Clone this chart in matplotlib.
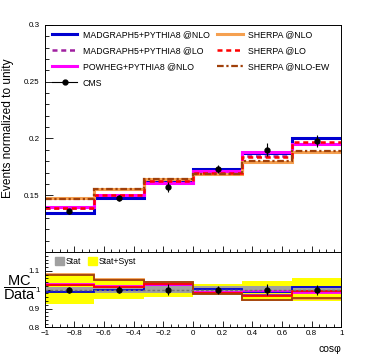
import numpy as np
import matplotlib
matplotlib.use('Agg')
import matplotlib.pyplot as plt
from matplotlib.ticker import MultipleLocator, FixedLocator
from matplotlib.patches import Patch
from matplotlib.lines import Line2D

plt.rcParams['font.family'] = ['Liberation Sans', 'DejaVu Sans']
plt.rcParams['mathtext.fontset'] = 'custom'
plt.rcParams['mathtext.rm'] = 'Liberation Sans'
plt.rcParams['mathtext.it'] = 'Liberation Sans'
plt.rcParams['axes.linewidth'] = 0.7

# binning in cos(phi)
bin_edges = [-1, -2/3, -1/3, 0, 1/3, 2/3, 1]
bin_centers = [-5/6, -1/2, -1/6, 1/6, 1/2, 5/6]

# measured (CMS) normalized distribution
cms = [0.1359, 0.1477, 0.1575, 0.1731, 0.1901, 0.1979]
cms_err = [0.0021, 0.0027, 0.0045, 0.0036, 0.0058, 0.0054]

# predictions
mg_nlo = [0.1342, 0.1478, 0.1618, 0.1735, 0.1873, 0.2005]
mg_lo = [0.1390, 0.1500, 0.1620, 0.1710, 0.1850, 0.1955]
powheg = [0.1397, 0.1502, 0.1612, 0.1712, 0.1885, 0.1948]
sherpa_nlo = [0.1475, 0.1557, 0.1643, 0.1690, 0.1795, 0.1885]
sherpa_lo = [0.1390, 0.1500, 0.1625, 0.1700, 0.1840, 0.1965]
sherpa_ew = [0.1468, 0.1552, 0.1640, 0.1688, 0.1800, 0.1888]

# relative uncertainty bands for the ratio panel
stat_rel = [0.014, 0.018, 0.020, 0.020, 0.020, 0.020]
tot_rel = [0.078, 0.052, 0.040, 0.030, 0.048, 0.062]

models = [
    ('MADGRAPH5+PYTHIA8 @NLO', mg_nlo, '#0000d0', '-', 2.2),
    ('MADGRAPH5+PYTHIA8 @LO', mg_lo, '#a020a0', (0, (2, 1.5)), 1.8),
    ('POWHEG+PYTHIA8 @NLO', powheg, '#ff00ff', '-', 2.2),
    ('SHERPA @NLO', sherpa_nlo, '#f5a050', '-', 2.2),
    ('SHERPA @LO', sherpa_lo, '#ff0000', (0, (2, 1.5)), 1.8),
    ('SHERPA @NLO-EW', sherpa_ew, '#a0400a', (0, (3, 1.2, 1, 1.2)), 1.6),
]

fig = plt.figure(figsize=(3.7, 3.6), dpi=100)
ax = fig.add_axes([0.1208, 0.30, 0.8014, 0.6306])
axr = fig.add_axes([0.1208, 0.0907, 0.8014, 0.2093])

edges = np.array(bin_edges)
data = np.array(cms)
derr = np.array(cms_err)

handles = {}
for name, vals, col, ls, lw in models:
    ax.stairs(vals, edges, baseline=None, color=col, ls=ls, lw=lw)
    handles[name] = Line2D([], [], color=col, ls=ls, lw=lw)

ax.errorbar(bin_centers, cms, yerr=cms_err, fmt='o', color='black',
            ms=3.5, elinewidth=0.8, capsize=0, zorder=10)
handles['CMS'] = Line2D([], [], color='black', marker='o', ms=3.5, lw=0.8)

order = ['MADGRAPH5+PYTHIA8 @NLO', 'MADGRAPH5+PYTHIA8 @LO', 'POWHEG+PYTHIA8 @NLO', 'CMS',
         'SHERPA @NLO', 'SHERPA @LO', 'SHERPA @NLO-EW']
ax.legend([handles[k] for k in order], order, ncol=2, loc='upper left',
          bbox_to_anchor=(0.025, 0.978), frameon=False, fontsize=6.3,
          handlelength=2.9, handletextpad=0.6, columnspacing=0.9,
          labelspacing=0.82, borderpad=0, borderaxespad=0)

fmt = plt.FuncFormatter(lambda v, p: f'{round(v, 3):g}'.replace('-', '\u2212'))

ax.set_xlim(-1, 1)
ax.set_ylim(0.1, 0.3)
ax.yaxis.set_major_locator(FixedLocator([0.15, 0.2, 0.25, 0.3]))
ax.yaxis.set_major_formatter(fmt)
ax.yaxis.set_minor_locator(MultipleLocator(0.01))
ax.xaxis.set_major_locator(MultipleLocator(0.2))
ax.xaxis.set_minor_locator(MultipleLocator(0.05))
ax.tick_params(axis='both', which='both', direction='in', labelsize=5.8, width=0.6)
ax.tick_params(axis='y', which='major', length=5.5)
ax.tick_params(axis='y', which='minor', length=2.8)
ax.tick_params(axis='x', which='major', length=4.5, labelbottom=False)
ax.tick_params(axis='x', which='minor', length=2.2)
ax.set_ylabel('Events normalized to unity', fontsize=8.6)
ax.yaxis.set_label_coords(-0.105, 0.545)

# ratio panel
lo_t = 1 - np.array(tot_rel)
axr.stairs(1 + np.array(tot_rel), edges, baseline=lo_t, fill=True, color='#ffff00', lw=0)
lo_s = 1 - np.array(stat_rel)
axr.stairs(1 + np.array(stat_rel), edges, baseline=lo_s, fill=True, color='#a0a0a0', lw=0)
for name, vals, col, ls, lw in models:
    axr.stairs(np.array(vals) / data, edges, baseline=None, color=col, lw=1.3)
axr.axhline(1, color='#707070', ls=(0, (2, 1.5)), lw=1.0)
axr.errorbar(bin_centers, np.ones(len(cms)), yerr=derr / data, fmt='o', color='black',
             ms=3.5, elinewidth=0.8, capsize=0, zorder=10)
axr.legend([Patch(color='#a0a0a0'), Patch(color='#ffff00')], ['Stat', 'Stat+Syst'],
           ncol=2, loc='upper left', bbox_to_anchor=(0.035, 0.93), frameon=False,
           fontsize=6.3, handlelength=1.0, handleheight=1.0, handletextpad=0.2,
           columnspacing=0.8, borderpad=0, borderaxespad=0)

axr.set_xlim(-1, 1)
axr.set_ylim(0.8, 1.2)
axr.yaxis.set_major_locator(FixedLocator([0.8, 0.9, 1.0, 1.1]))
axr.yaxis.set_minor_locator(MultipleLocator(0.02))
axr.yaxis.set_major_formatter(fmt)
axr.xaxis.set_major_locator(MultipleLocator(0.2))
axr.xaxis.set_minor_locator(MultipleLocator(0.05))
axr.xaxis.set_major_formatter(fmt)
axr.tick_params(axis='both', which='both', direction='in', labelsize=5.8, width=0.6)
axr.tick_params(axis='y', which='major', length=5.0)
axr.tick_params(axis='y', which='minor', length=2.5)
axr.tick_params(axis='x', which='major', length=4.5, pad=2)
axr.tick_params(axis='x', which='minor', length=2.2)
axr.set_ylabel(r'$\dfrac{\mathrm{MC}}{\mathrm{Data}}$', fontsize=10.5, rotation=0,
               ha='center', va='center')
axr.yaxis.set_label_coords(-0.085, 0.52)
axr.set_xlabel('cos\u03c6', fontsize=7.5, loc='right', labelpad=5)

fig.savefig('out.png', dpi=100)
